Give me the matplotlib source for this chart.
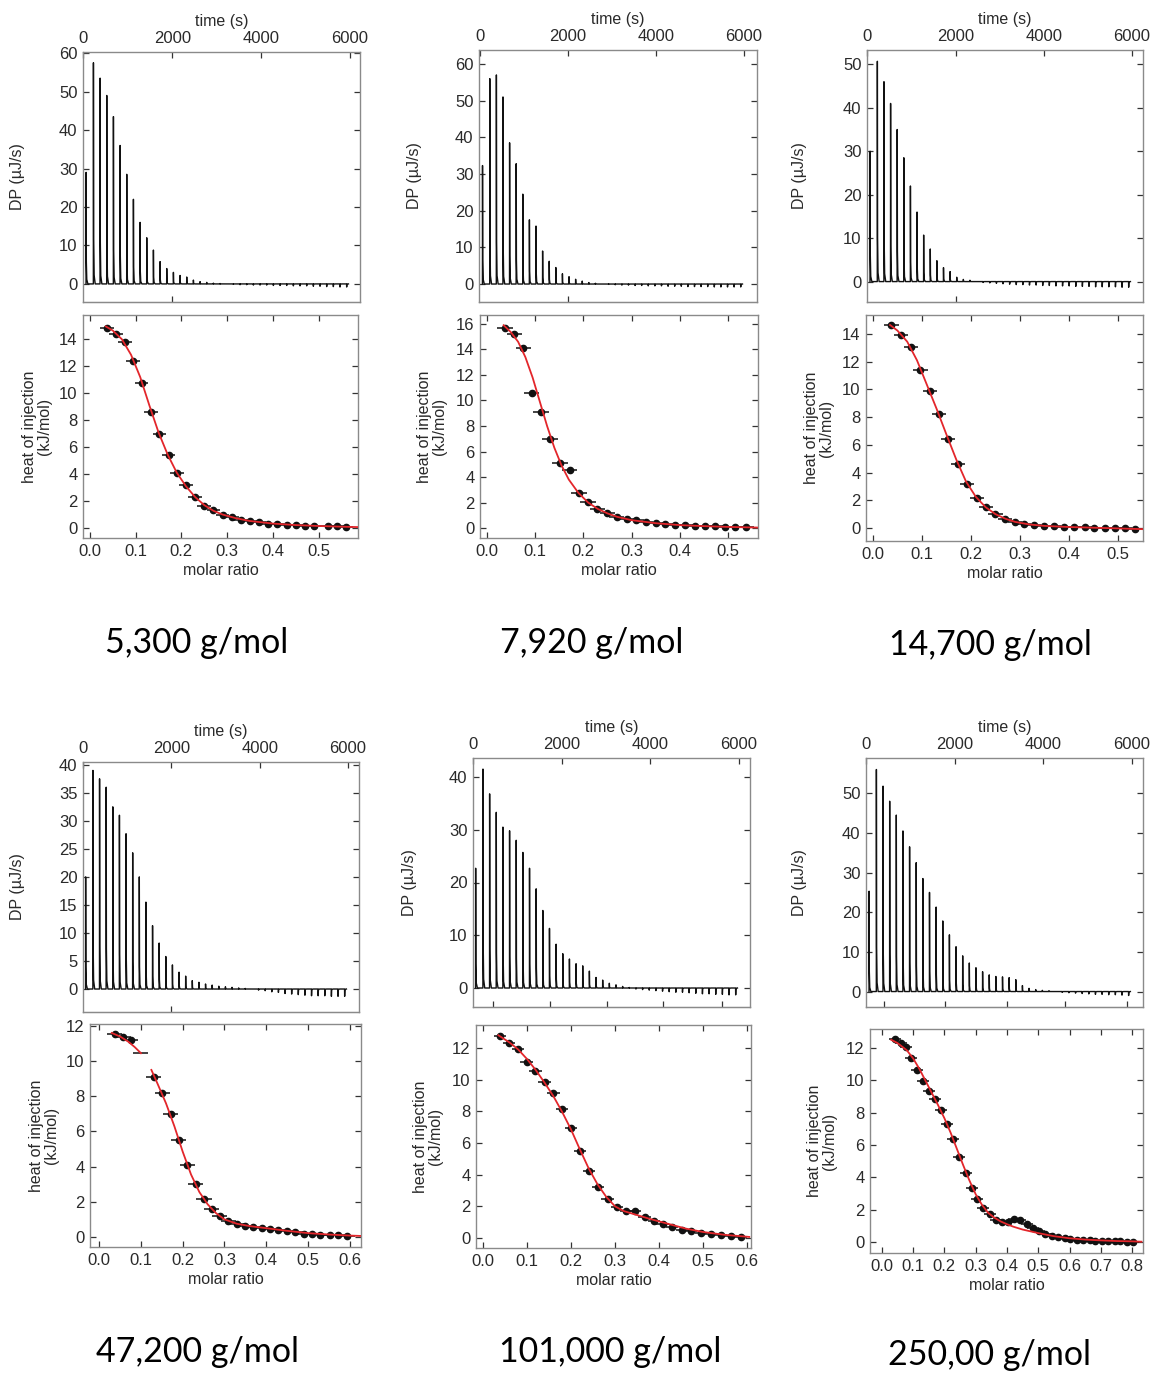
import matplotlib
matplotlib.use('Agg')
import matplotlib.pyplot as plt

plt.rcParams['font.family'] = ['Liberation Sans', 'DejaVu Sans']

W, H = 1151, 1373

# ---------------- data ----------------
inj_time = [60, 225, 375, 525, 675, 825, 975, 1125, 1275, 1425, 1575, 1725, 1875, 2025,
            2175, 2325, 2475, 2625, 2775, 2925, 3075, 3225, 3375, 3525, 3675, 3825, 3975,
            4125, 4275, 4425, 4575, 4725, 4875, 5025, 5175, 5325, 5475, 5625, 5775, 5925]

dp_5300 = [29, 57.5, 53.5, 49, 43.5, 36, 28.5, 22, 16, 12, 8.8, 5.8, 4.0, 3.0, 2.2, 1.8, 1.0, 0.6,
           0.4, 0.2, 0.1, 0, -0.1, -0.2, -0.2, -0.3, -0.3, -0.3, -0.4, -0.4, -0.4, -0.5, -0.5,
           -0.5, -0.6, -0.6, -0.7, -0.7, -0.8, -0.8]
dp_7920 = [32.3, 56, 57, 51, 38.5, 32.8, 24.5, 17.5, 15.8, 9, 6.2, 4.5, 2.8, 2.0, 1.3, 0.8, 0.4,
           0.2, 0, -0.1, -0.2, -0.3, -0.3, -0.4, -0.4, -0.5, -0.5, -0.5, -0.6, -0.6, -0.6, -0.7,
           -0.7, -0.7, -0.7, -0.8, -0.8, -0.8, -0.8, -0.8]
dp_14700 = [30, 50.7, 46, 41, 35, 28.5, 22, 16, 10.7, 7.5, 4.8, 3.2, 2.3, 1.0, 0.5, 0.3, 0, -0.2,
            -0.3, -0.4, -0.5, -0.6, -0.7, -0.7, -0.8, -0.8, -0.9, -0.9, -1.0, -1.0, -1.0, -1.1,
            -1.1, -1.1, -1.2, -1.2, -1.2, -1.2, -1.3, -1.3]
dp_47200 = [20, 39, 37.5, 36, 32.5, 31, 27.7, 24.3, 20, 15.5, 11.3, 8.2, 5.8, 4.3, 3.0, 2.3, 1.5,
            1.2, 0.9, 0.7, 0.5, 0.4, 0.3, 0.2, 0.1, 0, -0.2, -0.3, -0.5, -0.6, -0.8, -0.9, -1.0,
            -1.1, -1.2, -1.2, -1.2, -1.3, -1.3, -1.3]
dp_101000 = [22.7, 41.5, 36.8, 33.3, 30.5, 29.8, 28, 25.7, 22.7, 18.8, 14.7, 11.3, 8.3, 6.5, 5.5,
             4.6, 4.2, 3.2, 2.0, 1.5, 0.9, 0.6, 0.3, 0.1, -0.2, -0.3, -0.4, -0.5, -0.6, -0.7,
             -0.8, -0.8, -0.9, -1.0, -1.1, -1.1, -1.2, -1.2, -1.3, -1.3]
dp_250000 = [25.3, 56, 51.8, 48, 44.5, 40.5, 36.5, 32.5, 28.5, 25, 21.3, 17.8, 14.3, 11.3, 9, 7.2,
             6.0, 5.0, 4.2, 3.8, 3.7, 3.5, 3.0, 1.5, 0.8, 0.5, 0.3, 0.2, 0, -0.2, -0.3, -0.4,
             -0.5, -0.6, -0.7, -0.7, -0.8, -0.8, -0.9, -1.0]

# isotherm points (molar ratio, heat kJ/mol)
mr_5300 = [0.038, 0.057, 0.076, 0.095, 0.113, 0.133, 0.152, 0.172, 0.191, 0.21, 0.23, 0.25, 0.27,
           0.29, 0.31, 0.33, 0.35, 0.37, 0.39, 0.41, 0.43, 0.45, 0.47, 0.49, 0.52, 0.54, 0.56]
q_5300 = [14.81, 14.4, 13.78, 12.4, 10.74, 8.64, 6.99, 5.38, 4.05, 3.16, 2.27, 1.65, 1.31, 0.99,
          0.81, 0.62, 0.49, 0.42, 0.32, 0.30, 0.22, 0.2, 0.17, 0.17, 0.15, 0.12, 0.1]
fitx_5300 = [0.035, 0.05, 0.07, 0.09, 0.11, 0.13, 0.15, 0.17, 0.19, 0.21, 0.23, 0.25, 0.27, 0.29,
             0.32, 0.35, 0.4, 0.45, 0.5, 0.55, 0.585]
fity_5300 = [14.95, 14.65, 14.0, 12.85, 11.2, 9.1, 7.1, 5.45, 4.1, 3.1, 2.3, 1.7, 1.28, 1.0, 0.72,
             0.52, 0.33, 0.22, 0.15, 0.1, 0.07]

mr_7920 = [0.038, 0.057, 0.076, 0.093, 0.112, 0.131, 0.152, 0.172, 0.191, 0.21, 0.229, 0.25,
           0.269, 0.29, 0.309, 0.329, 0.35, 0.37, 0.391, 0.411, 0.432, 0.452, 0.473, 0.494,
           0.515, 0.537]
q_7920 = [15.72, 15.2, 14.1, 10.57, 9.06, 7.0, 5.09, 4.57, 2.74, 2.01, 1.51, 1.17, 0.86, 0.70,
          0.6, 0.47, 0.39, 0.31, 0.23, 0.21, 0.18, 0.16, 0.13, 0.1, 0.08, 0.05]
fitx_7920 = [0.035, 0.05, 0.065, 0.08, 0.095, 0.11, 0.125, 0.14, 0.155, 0.17, 0.19, 0.21, 0.23,
             0.25, 0.27, 0.3, 0.35, 0.4, 0.45, 0.5, 0.56]
fity_7920 = [15.9, 15.35, 14.6, 13.4, 11.8, 9.9, 8.0, 6.3, 4.9, 3.8, 2.75, 2.0, 1.5, 1.15, 0.88,
             0.62, 0.38, 0.23, 0.15, 0.09, 0.04]

mr_14700 = [0.038, 0.058, 0.077, 0.097, 0.116, 0.135, 0.154, 0.174, 0.192, 0.212, 0.23, 0.25,
            0.269, 0.29, 0.308, 0.329, 0.349, 0.37, 0.39, 0.411, 0.432, 0.452, 0.473, 0.494,
            0.514, 0.535]
q_14700 = [14.63, 13.95, 13.04, 11.43, 9.91, 8.25, 6.42, 4.62, 3.18, 2.17, 1.49, 1.01, 0.67, 0.43,
           0.29, 0.22, 0.17, 0.12, 0.1, 0.07, 0.05, 0.02, 0, -0.02, -0.02, -0.07]
fitx_14700 = [0.035, 0.05, 0.07, 0.09, 0.11, 0.13, 0.15, 0.17, 0.19, 0.21, 0.23, 0.25, 0.27, 0.29,
              0.32, 0.35, 0.4, 0.45, 0.5, 0.555]
fity_14700 = [14.65, 14.25, 13.45, 12.1, 10.35, 8.6, 6.75, 4.95, 3.35, 2.25, 1.5, 1.0, 0.67, 0.44,
              0.25, 0.15, 0.07, 0.02, -0.03, -0.09]

mr_47200 = [0.037, 0.057, 0.076, 0.131, 0.151, 0.171, 0.191, 0.211, 0.231, 0.251, 0.269, 0.289,
            0.309, 0.329, 0.349, 0.369, 0.39, 0.409, 0.429, 0.449, 0.469, 0.49, 0.51, 0.53,
            0.552, 0.572, 0.594]
q_47200 = [11.54, 11.35, 11.2, 9.11, 8.16, 6.98, 5.5, 4.08, 3.0, 2.14, 1.58, 1.18, 0.91, 0.76,
           0.63, 0.57, 0.53, 0.46, 0.38, 0.32, 0.27, 0.19, 0.15, 0.13, 0.11, 0.09, 0.08]
dash_x_47200 = [0.1]
dash_y_47200 = [10.47]
fitx_47200_a = [0.03, 0.05, 0.07, 0.085, 0.1]
fity_47200_a = [11.6, 11.4, 11.1, 10.8, 10.45]
fitx_47200_b = [0.125, 0.14, 0.16, 0.18, 0.2, 0.22, 0.24, 0.26, 0.28, 0.3, 0.33, 0.36, 0.4, 0.45,
                0.5, 0.55, 0.6, 0.625]
fity_47200_b = [9.5, 8.7, 7.6, 6.3, 4.85, 3.55, 2.55, 1.85, 1.35, 1.0, 0.75, 0.62, 0.5, 0.35,
                0.22, 0.14, 0.08, 0.06]

mr_101000 = [0.038, 0.059, 0.079, 0.099, 0.119, 0.14, 0.16, 0.18, 0.2, 0.221, 0.241, 0.262,
             0.283, 0.304, 0.325, 0.346, 0.367, 0.388, 0.408, 0.43, 0.452, 0.473, 0.496, 0.519,
             0.541, 0.564, 0.586]
q_101000 = [12.77, 12.29, 11.93, 11.09, 10.55, 9.87, 9.14, 8.15, 6.93, 5.5, 4.26, 3.21, 2.46,
            1.93, 1.72, 1.68, 1.3, 1.09, 0.9, 0.67, 0.53, 0.42, 0.32, 0.23, 0.17, 0.1, 0.06]
fitx_101000 = [0.035, 0.06, 0.08, 0.1, 0.12, 0.14, 0.16, 0.18, 0.2, 0.22, 0.24, 0.26, 0.28, 0.3,
               0.32, 0.35, 0.38, 0.42, 0.46, 0.5, 0.55, 0.605]
fity_101000 = [12.8, 12.35, 11.9, 11.3, 10.6, 9.8, 8.95, 7.95, 6.85, 5.6, 4.4, 3.4, 2.6, 2.0,
               1.7, 1.45, 1.2, 0.9, 0.6, 0.38, 0.2, 0.07]

mr_250000 = [0.041, 0.061, 0.078, 0.094, 0.112, 0.132, 0.152, 0.169, 0.189, 0.207, 0.227, 0.247,
             0.268, 0.287, 0.305, 0.324, 0.345, 0.364, 0.383, 0.404, 0.423, 0.442, 0.463, 0.483,
             0.503, 0.522, 0.543, 0.562, 0.584, 0.603, 0.624, 0.643, 0.664, 0.683, 0.703, 0.723,
             0.744, 0.763, 0.783, 0.803]
q_250000 = [12.53, 12.28, 12.07, 11.35, 10.66, 9.94, 9.36, 8.84, 8.18, 7.31, 6.36, 5.28, 4.29,
            3.35, 2.65, 2.13, 1.72, 1.39, 1.24, 1.24, 1.45, 1.35, 1.14, 0.89, 0.68, 0.52, 0.37,
            0.29, 0.23, 0.19, 0.14, 0.12, 0.1, 0.08, 0.06, 0.06, 0.04, 0.04, 0.02, 0.0]
fitx_250000 = [0.03, 0.05, 0.08, 0.1, 0.12, 0.14, 0.16, 0.18, 0.2, 0.22, 0.24, 0.26, 0.28, 0.3,
               0.32, 0.34, 0.36, 0.38, 0.4, 0.42, 0.45, 0.5, 0.55, 0.6, 0.65, 0.7, 0.75, 0.8, 0.83]
fity_250000 = [12.5, 12.3, 11.85, 11.35, 10.7, 9.95, 9.2, 8.45, 7.65, 6.75, 5.75, 4.75, 3.8, 2.95,
               2.3, 1.8, 1.5, 1.27, 1.1, 0.95, 0.77, 0.55, 0.36, 0.23, 0.15, 0.1, 0.06, 0.04, 0.02]

mw_labels = ['5,300 g/mol', '7,920 g/mol', '14,700 g/mol',
             '47,200 g/mol', '101,000 g/mol', '250,00 g/mol']

# ---------------- layout (pixel boxes: left, top, right, bottom) ----------------
panels = [
    dict(dp=dp_5300, top_box=(83, 52, 360, 302), top_xlim=(-10, 6225), top_ylim=(-4.7, 60.3),
         top_yticks=range(0, 61, 10), bot_ticks=[2000],
         mr=mr_5300, q=q_5300, xerr=0.015, fits=[(fitx_5300, fity_5300)],
         bot_box=(83, 315, 358, 538), bot_xlim=(-0.015, 0.586), bot_ylim=(-0.74, 15.8),
         bot_yticks=range(0, 15, 2), bot_xticks=[0, 0.1, 0.2, 0.3, 0.4, 0.5],
         dp_lx=-0.209, h_lx=-0.113, label=(197, 643)),
    dict(dp=dp_7920, top_box=(479, 50, 757, 302), top_xlim=(-20, 6295), top_ylim=(-4.9, 63.8),
         top_yticks=range(0, 61, 10), bot_ticks=[2000],
         mr=mr_7920, q=q_7920, xerr=0.016, fits=[(fitx_7920, fity_7920)],
         bot_box=(480, 315, 758, 538), bot_xlim=(-0.014, 0.562), bot_ylim=(-0.78, 16.7),
         bot_yticks=range(0, 17, 2), bot_xticks=[0, 0.1, 0.2, 0.3, 0.4, 0.5],
         dp_lx=-0.205, h_lx=-0.119, label=(592, 643)),
    dict(dp=dp_14700, top_box=(867, 50, 1143, 302), top_xlim=(-10, 6250), top_ylim=(-4.7, 53.3),
         top_yticks=range(0, 51, 10), bot_ticks=[2000],
         mr=mr_14700, q=q_14700, xerr=0.0145, fits=[(fitx_14700, fity_14700)],
         bot_box=(866, 315, 1143, 541), bot_xlim=(-0.014, 0.551), bot_ylim=(-0.94, 15.37),
         bot_yticks=range(0, 15, 2), bot_xticks=[0, 0.1, 0.2, 0.3, 0.4, 0.5],
         dp_lx=-0.217, h_lx=-0.116, label=(990, 645)),
    dict(dp=dp_47200, top_box=(83, 762, 359, 1012), top_xlim=(0, 6250), top_ylim=(-4.1, 40.5),
         top_yticks=range(0, 41, 5), bot_ticks=[2000],
         mr=mr_47200, q=q_47200, xerr=0.018,
         fits=[(fitx_47200_a, fity_47200_a), (fitx_47200_b, fity_47200_b)],
         dash=(dash_x_47200, dash_y_47200),
         bot_box=(90, 1024, 361, 1247), bot_xlim=(-0.022, 0.627), bot_ylim=(-0.57, 12.11),
         bot_yticks=range(0, 13, 2), bot_xticks=[0, 0.1, 0.2, 0.3, 0.4, 0.5, 0.6],
         dp_lx=-0.21, h_lx=-0.114, label=(197, 1352)),
    dict(dp=dp_101000, top_box=(473, 758, 750, 1007), top_xlim=(0, 6248), top_ylim=(-3.6, 43.6),
         top_yticks=range(0, 41, 10), bot_ticks=[451, 1737, 3023, 4286, 5617],
         mr=mr_101000, q=q_101000, xerr=0.014, fits=[(fitx_101000, fity_101000)],
         bot_box=(476, 1025, 751, 1248), bot_xlim=(-0.016, 0.609), bot_ylim=(-0.63, 13.45),
         bot_yticks=range(0, 13, 2), bot_xticks=[0, 0.1, 0.2, 0.3, 0.4, 0.5, 0.6],
         dp_lx=-0.202, h_lx=-0.12, label=(610, 1352)),
    dict(dp=dp_250000, top_box=(866, 758, 1143, 1007), top_xlim=(-10, 6250), top_ylim=(-3.9, 58.9),
         top_yticks=range(0, 51, 10), bot_ticks=[408, 1766, 3170, 4480, 5880],
         mr=mr_250000, q=q_250000, xerr=0.019, fits=[(fitx_250000, fity_250000)],
         bot_box=(870, 1029, 1143, 1253), bot_xlim=(-0.038, 0.835), bot_ylim=(-0.68, 13.17),
         bot_yticks=range(0, 13, 2), bot_xticks=[0, 0.1, 0.2, 0.3, 0.4, 0.5, 0.6, 0.7, 0.8],
         dp_lx=-0.213, h_lx=-0.121, label=(990, 1355)),
]

TXT = '#2a2a2a'
SPINE = '#8a8a8a'
TICKFS = 12
LABFS = 11.5

fig = plt.figure(figsize=(W / 100, H / 100), dpi=100)


def rect(box):
    l, t, r, b = box
    return [l / W, 1 - b / H, (r - l) / W, (b - t) / H]


def style(ax):
    for s in ax.spines.values():
        s.set_color(SPINE)
        s.set_linewidth(1.0)
    ax.tick_params(direction='in', length=4, width=0.9, color='#333333',
                   labelsize=TICKFS, labelcolor=TXT)


def spike_trace(times, heights):
    xs, ys = [], []
    for t, h in zip(times, heights):
        xs += [t - 2, t, t + 5, t + 15, t + 40]
        ys += [0, h, 0.2 * h, 0.04 * h, 0]
    return xs, ys


for p in panels:
    # ---- thermogram ----
    ax = fig.add_axes(rect(p['top_box']))
    style(ax)
    xs, ys = spike_trace(inj_time, p['dp'])
    ax.plot(xs, ys, color='#111111', lw=1.0)
    ax.set_xlim(*p['top_xlim'])
    ax.set_ylim(*p['top_ylim'])
    ax.xaxis.tick_top()
    ax.set_xticks([0, 2000, 4000, 6000])
    ax.set_yticks(list(p['top_yticks']))
    ax.tick_params(axis='x', top=True, bottom=False, labeltop=True, labelbottom=False, pad=4)
    ax.tick_params(axis='y', left=True, right=True, labelright=False, pad=4)
    ax.xaxis.set_label_position('top')
    ax.set_xlabel('time (s)', fontsize=LABFS, color=TXT)
    ax.xaxis.set_label_coords(0.5, 1 + 26 / (p['top_box'][3] - p['top_box'][1]))
    ax.set_ylabel('DP (µJ/s)', fontsize=LABFS, color=TXT)
    ax.yaxis.set_label_coords(p['dp_lx'], 0.5)
    sec = ax.secondary_xaxis('bottom')
    sec.set_xticks(p['bot_ticks'])
    sec.set_xticklabels([])
    sec.tick_params(direction='in', length=4, width=0.9, color='#333333')
    sec.spines['bottom'].set_color(SPINE)

    # ---- isotherm ----
    bx = fig.add_axes(rect(p['bot_box']))
    style(bx)
    bx.errorbar(p['mr'], p['q'], xerr=p['xerr'], fmt='o', ms=4.5, color='#111111',
                ecolor='#111111', elinewidth=1.1, capsize=0, zorder=2)
    if 'dash' in p:
        bx.errorbar(p['dash'][0], p['dash'][1], xerr=p['xerr'], fmt='none',
                    ecolor='#111111', elinewidth=1.1, capsize=0, zorder=2)
    for fx, fy in p['fits']:
        bx.plot(fx, fy, color='#e3262b', lw=1.3, zorder=3)
    bx.set_xlim(*p['bot_xlim'])
    bx.set_ylim(*p['bot_ylim'])
    bx.set_xticks(p['bot_xticks'])
    bx.set_xticklabels(['%.1f' % v for v in p['bot_xticks']])
    bx.set_yticks(list(p['bot_yticks']))
    bx.tick_params(axis='x', top=True, bottom=True, labeltop=False, pad=4)
    bx.tick_params(axis='y', left=True, right=True, labelright=False, pad=4)
    bx.set_xlabel('molar ratio', fontsize=LABFS, color=TXT)
    bx.xaxis.set_label_coords(0.5, -25 / (p['bot_box'][3] - p['bot_box'][1]))
    bx.set_ylabel('heat of injection\n(kJ/mol)', fontsize=LABFS, color=TXT, linespacing=1.0)
    bx.yaxis.set_label_coords(p['h_lx'], 0.5)

for p, lab in zip(panels, mw_labels):
    x, y = p['label']
    fig.text(x / W, 1 - y / H, lab, ha='center', va='center', fontsize=24.5,
             family=['Lato', 'DejaVu Sans'], color='black')

fig.savefig('out.png', dpi=100, facecolor='white')
